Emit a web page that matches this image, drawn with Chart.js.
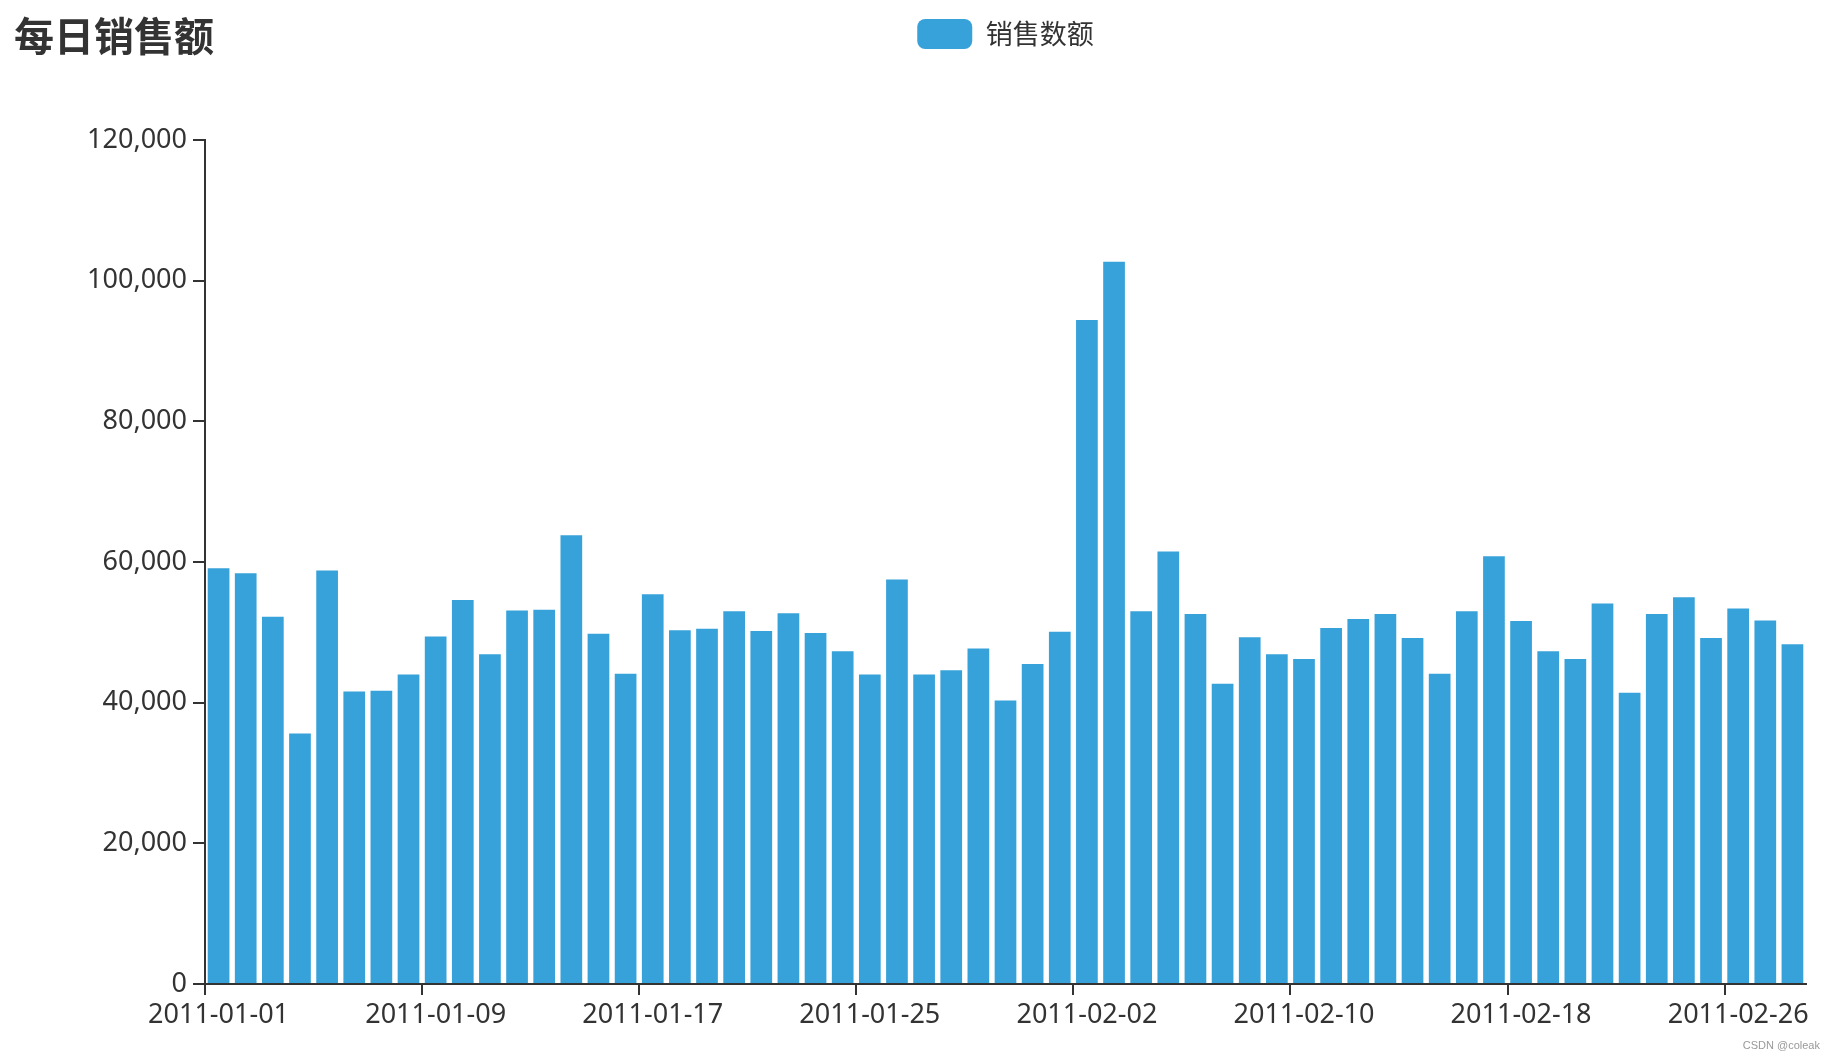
<!DOCTYPE html>
<html>
<head>
<meta charset="utf-8">
<script src="https://cdn.jsdelivr.net/npm/chart.js@4.4.1/dist/chart.umd.min.js"></script>
<style>
  html, body { margin: 0; padding: 0; background: #fff; }
  #wrap { position: relative; width: 1836px; height: 1059px; }
  #title {
    position: absolute; left: 14px; top: 14px;
    font: bold 40px 'Noto Sans CJK SC', sans-serif; line-height: 1;
    color: #333;
  }
  #mark {
    position: absolute; right: 16px; bottom: 8px;
    font: 11px 'Liberation Sans', Arial, sans-serif; color: #999;
  }
</style>
</head>
<body>
<div id="wrap">
  <canvas id="salesChart" width="1836" height="1059"></canvas>
  <div id="title">每日销售额</div>
  <div id="mark">CSDN @coleak</div>
</div>
<script>
// categories: one bar per day, Jan + Feb 2011
const days = [
  '2011-01-01', '2011-01-02', '2011-01-03', '2011-01-04', '2011-01-05', '2011-01-06', '2011-01-07', '2011-01-08',
  '2011-01-09', '2011-01-10', '2011-01-11', '2011-01-12', '2011-01-13', '2011-01-14', '2011-01-15', '2011-01-16',
  '2011-01-17', '2011-01-18', '2011-01-19', '2011-01-20', '2011-01-21', '2011-01-22', '2011-01-23', '2011-01-24',
  '2011-01-25', '2011-01-26', '2011-01-27', '2011-01-28', '2011-01-29', '2011-01-30', '2011-01-31', '2011-02-01',
  '2011-02-02', '2011-02-03', '2011-02-04', '2011-02-05', '2011-02-06', '2011-02-07', '2011-02-08', '2011-02-09',
  '2011-02-10', '2011-02-11', '2011-02-12', '2011-02-13', '2011-02-14', '2011-02-15', '2011-02-16', '2011-02-17',
  '2011-02-18', '2011-02-19', '2011-02-20', '2011-02-21', '2011-02-22', '2011-02-23', '2011-02-24', '2011-02-25',
  '2011-02-26', '2011-02-27', '2011-02-28'
];

// daily sales
const sales = [
  59100, 58400, 52200, 35600, 58800, 41600, 41700, 44000,
  49400, 54600, 46900, 53100, 53200, 63800, 49800, 44100,
  55400, 50300, 50500, 53000, 50200, 52700, 49900, 47300,
  44000, 57500, 44000, 44600, 47700, 40300, 45500, 50100,
  94400, 102700, 53000, 61500, 52600, 42700, 49300, 46900,
  46200, 50600, 51900, 52600, 49200, 44100, 53000, 60800,
  51600, 47300, 46200, 54100, 41400, 52600, 55000, 49200,
  53400, 51700, 48300
];

const seriesName = '销售数额';
const yMax = 120000;
const yStep = 20000;
const labelEvery = 8;

const barColor = '#37a2da';
const axisColor = '#333';
const font = "'Noto Sans', 'Noto Sans CJK SC', sans-serif";

// push the plot area down below the legend row
const legendSpacer = {
  id: 'legendSpacer',
  beforeInit(chart) {
    const fit = chart.legend.fit;
    chart.legend.fit = function () {
      fit.call(this);
      this.height = 140;
    };
  }
};

// tick marks only at every 8th band edge, plus the closing edge
const xTickColor = ctx =>
  (ctx.index % labelEvery === 0 || ctx.index === days.length) ? axisColor : 'rgba(0,0,0,0)';

new Chart(document.getElementById('salesChart'), {
  type: 'bar',
  data: {
    labels: days,
    datasets: [{
      label: seriesName,
      data: sales,
      backgroundColor: barColor,
      borderWidth: 0,
      barPercentage: 0.8,
      categoryPercentage: 1
    }]
  },
  options: {
    responsive: false,
    animation: false,
    layout: { padding: { top: 0, left: 0, right: 30, bottom: 0 } },
    plugins: {
      legend: {
        position: 'top',
        fullSize: false,
        labels: {
          boxWidth: 55,
          boxHeight: 30,
          useBorderRadius: true,
          borderRadius: 8,
          padding: 19,
          color: axisColor,
          font: { family: "'Noto Sans CJK SC', sans-serif", size: 27 }
        }
      },
      tooltip: { enabled: false }
    },
    scales: {
      x: {
        offset: true,
        afterFit(scale) { scale.height = 75; },
        border: { color: axisColor, width: 2 },
        grid: {
          offset: true,
          drawOnChartArea: false,
          color: xTickColor,
          tickColor: xTickColor,
          lineWidth: 2,
          tickLength: 11
        },
        ticks: {
          autoSkip: false,
          maxRotation: 0,
          padding: 4,
          color: axisColor,
          font: { family: font, size: 27 },
          callback: (v, i) => (i % labelEvery === 0 ? days[i] : '')
        }
      },
      y: {
        min: 0,
        max: yMax,
        afterFit(scale) { scale.width = 205; },
        border: { color: axisColor, width: 2 },
        grid: {
          drawOnChartArea: false,
          color: axisColor,
          lineWidth: 2,
          tickLength: 12
        },
        ticks: {
          stepSize: yStep,
          padding: 6,
          color: axisColor,
          font: { family: font, size: 27 },
          callback: v => v.toLocaleString('en-US')
        }
      }
    }
  },
  plugins: [legendSpacer]
});
</script>
</body>
</html>
